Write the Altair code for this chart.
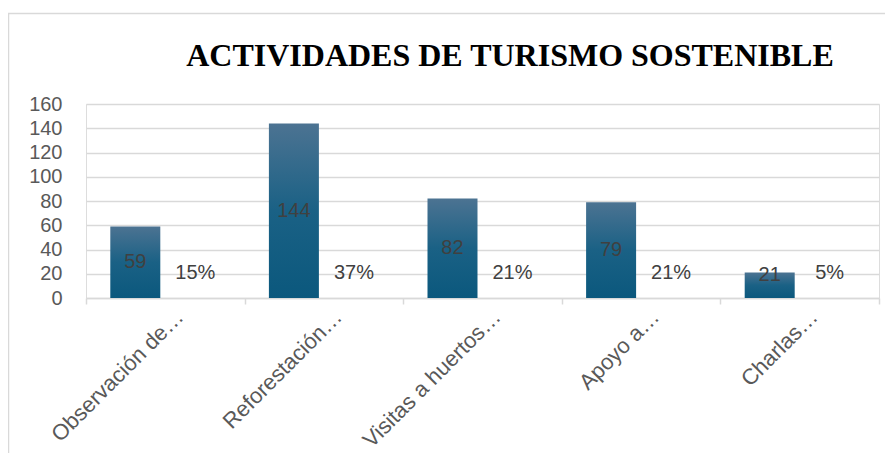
import altair as alt
import pandas as pd

categorias = ["Observación de…", "Reforestación…", "Visitas a huertos…", "Apoyo a…", "Charlas…"]
valores = [59, 144, 82, 79, 21]
porcentajes = ["15%", "37%", "21%", "21%", "5%"]
titulo = "ACTIVIDADES DE TURISMO SOSTENIBLE"

df = pd.DataFrame({"cat": categorias, "v": valores, "pct": porcentajes})
base = alt.Chart(df)

GRID = "#d9d9d9"
TXT = "#595959"
LBL = "#404040"
SANS = "Liberation Sans"

x_enc = alt.X(
    "cat:N", sort=categorias,
    scale=alt.Scale(paddingInner=0, paddingOuter=0),
    axis=alt.Axis(
        title=None, labelAngle=-45, labelAlign="right", labelBaseline="middle",
        labelFontSize=22, labelColor=TXT, labelFont=SANS, labelOffset=14,
        labelPadding=9, tickSize=6, tickColor=GRID, tickWidth=1.5,
        domainColor=GRID, domainWidth=1.5, tickBand="extent", grid=False,
        labelLimit=0,
    ),
)
xo_enc = alt.XOffset(
    "serie:N",
    scale=alt.Scale(domain=["n", "p"], paddingInner=0.1667, paddingOuter=0.405),
)
y_scale = alt.Scale(domain=[0, 160], nice=False)
y_axis = alt.Axis(
    title=None, values=list(range(0, 161, 20)), labelFontSize=20, labelColor=TXT,
    labelFont=SANS, labelPadding=24, domain=False, ticks=False,
    gridColor=GRID, gridWidth=1.5,
)

grad = alt.Gradient(
    gradient="linear",
    stops=[alt.GradientStop(color="#4c7392", offset=0),
           alt.GradientStop(color="#1a6185", offset=0.5),
           alt.GradientStop(color="#0b587d", offset=1)],
    x1=0, x2=0, y1=0, y2=1,
)

frame = alt.Chart(pd.DataFrame({"a": [0]})).mark_rect(
    filled=False, stroke=GRID, strokeWidth=1.5
).encode(
    x=alt.value(-77.5), y=alt.value(-90.5), x2=alt.value(900), y2=alt.value(500)
)

title_mark = alt.Chart(pd.DataFrame({"t": [titulo]})).mark_text(
    font="Liberation Serif", fontSize=32, fontWeight="bold", color="#000000",
    align="center", baseline="alphabetic",
).encode(x=alt.value(424), y=alt.value(-38), text="t:N")

bars = base.transform_calculate(serie="'n'").mark_bar(color=grad).encode(
    x=x_enc, xOffset=xo_enc, y=alt.Y("v:Q", scale=y_scale, axis=y_axis)
)

count_txt = base.transform_calculate(
    serie="'n'", ly="max(datum.v / 2, 19)"
).mark_text(fontSize=20, color=LBL, font=SANS, baseline="middle").encode(
    x=x_enc, xOffset=xo_enc, y=alt.Y("ly:Q", scale=y_scale, axis=y_axis), text="v:Q"
)

pct_txt = base.transform_calculate(serie="'p'").mark_text(
    fontSize=20, color=LBL, font=SANS, baseline="middle"
).encode(
    x=x_enc, xOffset=xo_enc, y=alt.Y(datum=20.5, scale=y_scale, axis=y_axis), text="pct:N"
)

chart = alt.layer(frame, title_mark, bars, count_txt, pct_txt).properties(
    width=793, height=194,
    autosize="none",
    padding={"left": 78, "top": 96, "right": 6, "bottom": 155},
).configure_view(stroke=None).configure(background="white")

chart.save("out.html", embed_options={"renderer": "svg", "actions": False})
